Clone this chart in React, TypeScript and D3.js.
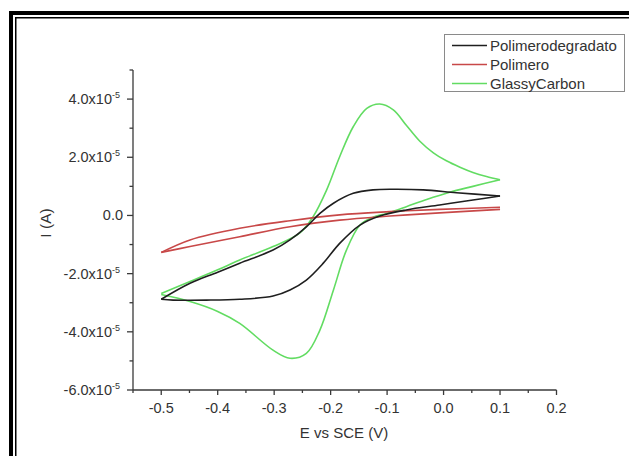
import React from "react";
import * as d3 from "d3";

// ---- Data (I in units of 1e-5 A) ----
const glassyFwdE = [-0.5, -0.45, -0.4, -0.361, -0.302, -0.255, -0.231, -0.207, -0.184, -0.16, -0.136, -0.113, -0.089, -0.066, -0.042, -0.018, 0.005, 0.029, 0.052, 0.076, 0.1];
const glassyFwdI = [-2.68, -2.28, -1.87, -1.53, -1.07, -0.61, -0.04, 0.88, 2.02, 3.05, 3.68, 3.83, 3.63, 3.1, 2.55, 2.15, 1.88, 1.66, 1.48, 1.34, 1.23];
const glassyRevE = [0.1, 0.052, 0.011, -0.03, -0.066, -0.101, -0.125, -0.148, -0.172, -0.195, -0.219, -0.243, -0.272, -0.302, -0.361, -0.4, -0.449, -0.5];
const glassyRevI = [1.23, 1.0, 0.8, 0.55, 0.3, 0.07, -0.06, -0.33, -1.19, -2.56, -3.94, -4.74, -4.91, -4.63, -3.71, -3.3, -2.96, -2.72];

const degFwdE = [-0.5, -0.449, -0.4, -0.361, -0.302, -0.272, -0.243, -0.219, -0.195, -0.16, -0.125, -0.089, -0.036, 0.023, 0.1];
const degFwdI = [-2.88, -2.33, -1.95, -1.64, -1.19, -0.84, -0.39, 0.07, 0.42, 0.76, 0.88, 0.9, 0.88, 0.78, 0.67];
const degRevE = [0.1, 0.052, -0.007, -0.066, -0.113, -0.148, -0.184, -0.213, -0.243, -0.272, -0.302, -0.361, -0.42, -0.479, -0.5];
const degRevI = [0.67, 0.53, 0.36, 0.19, -0.02, -0.33, -0.96, -1.64, -2.22, -2.56, -2.77, -2.88, -2.91, -2.91, -2.88];

const polFwdE = [-0.5, -0.449, -0.361, -0.272, -0.184, -0.095, -0.007, 0.1];
const polFwdI = [-1.27, -0.84, -0.44, -0.18, 0.02, 0.13, 0.21, 0.28];
const polRevE = [0.1, -0.007, -0.095, -0.184, -0.272, -0.361, -0.449, -0.5];
const polRevI = [0.21, 0.09, -0.02, -0.16, -0.39, -0.73, -1.07, -1.27];

const seriesNames = ["Polimerodegradato", "Polimero", "GlassyCarbon"];
const seriesColors = ["#1f1f1f", "#c84848", "#62dc62"];

const xMajorTicks = [-0.5, -0.4, -0.3, -0.2, -0.1, 0.0, 0.1, 0.2];
const xMinorTicks = [-0.55, -0.45, -0.35, -0.25, -0.15, -0.05, 0.05, 0.15];
const yMajorTicks = [-6, -4, -2, 0, 2, 4];
const yMinorTicks = [-5, -3, -1, 1, 3, 5];

const FONT = "'Liberation Sans', Arial, sans-serif";

export default function App() {
  const W = 629, H = 456;
  const x = d3.scaleLinear().domain([-0.55, 0.2]).range([133, 556.5]);
  const y = d3.scaleLinear().domain([-6, 5]).range([390, 70]);
  const line = d3
    .line<[number, number]>()
    .x((d) => x(d[0]))
    .y((d) => y(d[1]))
    .curve(d3.curveCatmullRom.alpha(0.5));

  const zip = (a: number[], b: number[]) => a.map((v, i) => [v, b[i]] as [number, number]);
  const series = [
    { name: seriesNames[0], color: seriesColors[0], fwd: zip(degFwdE, degFwdI), rev: zip(degRevE, degRevI) },
    { name: seriesNames[1], color: seriesColors[1], fwd: zip(polFwdE, polFwdI), rev: zip(polRevE, polRevI) },
    { name: seriesNames[2], color: seriesColors[2], fwd: zip(glassyFwdE, glassyFwdI), rev: zip(glassyRevE, glassyRevI) },
  ];
  const drawOrder = [2, 1, 0];
  const axisColor = "#3a3a3a";
  const textColor = "#333";

  return (
    <svg
      width={W}
      height={H}
      style={{ position: "absolute", left: 0, top: 0, background: "#fff" }}
      fontFamily={FONT}
    >
      <rect x={0} y={0} width={W} height={H} fill="#fff" />
      {/* frame */}
      <rect x={9} y={11} width={W - 9} height={4} fill="#000" />
      <rect x={9} y={11} width={4} height={H - 11} fill="#000" />
      <rect x={15} y={17} width={W - 15} height={1.5} fill="#000" />
      <rect x={15} y={17} width={1.5} height={H - 17} fill="#000" />

      {/* curves */}
      {drawOrder.map((i) => {
        const s = series[i];
        return (
          <g key={s.name} fill="none" stroke={s.color} strokeWidth={1.6} strokeLinejoin="round">
            <path d={line(s.fwd) || ""} />
            <path d={line(s.rev) || ""} />
          </g>
        );
      })}

      {/* axes */}
      <g stroke={axisColor} strokeWidth={1.3}>
        <line x1={x(-0.55)} x2={x(0.2)} y1={390} y2={390} />
        <line x1={133} x2={133} y1={y(-6)} y2={y(5)} />
        {xMajorTicks.map((t) => (
          <line key={"xM" + t} x1={x(t)} x2={x(t)} y1={390} y2={395} />
        ))}
        {xMinorTicks.map((t) => (
          <line key={"xm" + t} x1={x(t)} x2={x(t)} y1={390} y2={393} />
        ))}
        {yMajorTicks.map((t) => (
          <line key={"yM" + t} x1={127} x2={133} y1={y(t)} y2={y(t)} />
        ))}
        {yMinorTicks.map((t) => (
          <line key={"ym" + t} x1={129.5} x2={133} y1={y(t)} y2={y(t)} />
        ))}
      </g>

      {/* x tick labels */}
      {xMajorTicks.map((t) => (
        <text key={"xl" + t} x={x(t)} y={413} textAnchor="middle" fontSize={14.5} fill={textColor}>
          {t.toFixed(1)}
        </text>
      ))}
      {/* y tick labels */}
      {yMajorTicks.map((t) =>
        t === 0 ? (
          <text key={"yl" + t} x={123} y={y(t) + 5} textAnchor="end" fontSize={14.5} fill={textColor}>
            0.0
          </text>
        ) : (
          <text key={"yl" + t} x={120} y={y(t) + 5} textAnchor="end" fontSize={14.5} fill={textColor}>
            {t.toFixed(1) + "x10"}
            <tspan fontSize={9} dy={-6}>-5</tspan>
          </text>
        )
      )}

      {/* axis titles */}
      <text x={344} y={438} textAnchor="middle" fontSize={15} fill={textColor}>
        E vs SCE (V)
      </text>
      <text
        transform={`translate(51,223) rotate(-90)`}
        textAnchor="middle"
        fontSize={15.5}
        fill={textColor}
      >
        I (A)
      </text>

      {/* legend */}
      <rect x={444.5} y={34.5} width={180} height={57} fill="#fff" stroke="#8a8a8a" strokeWidth={1} />
      {series.map((s, i) => (
        <g key={"lg" + s.name}>
          <line x1={452} x2={487} y1={45.5 + i * 19} y2={45.5 + i * 19} stroke={s.color} strokeWidth={1.5} />
          <text x={490} y={50.5 + i * 19} fontSize={15} fill={textColor}>
            {s.name}
          </text>
        </g>
      ))}
    </svg>
  );
}
